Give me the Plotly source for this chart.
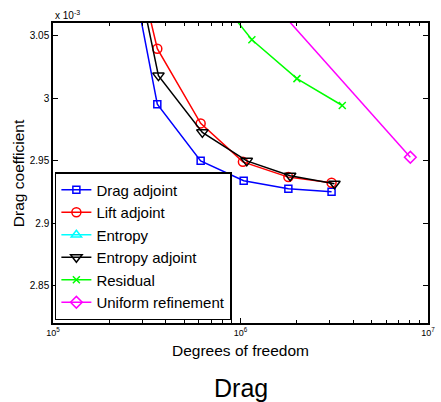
import plotly.graph_objects as go

# Degrees of freedom and drag coefficient (units of 1e-3)
drag_adj_dof = [2.1e5, 3.6e5, 6.13e5, 1.04e6, 1.80e6, 3.06e6]
drag_adj_cd = [3.177, 2.9951, 2.9497, 2.9338, 2.9274, 2.925]

lift_adj_dof = [2.1e5, 3.6e5, 6.13e5, 1.03e6, 1.80e6, 3.06e6]
lift_adj_cd = [3.188, 3.0394, 2.9797, 2.9489, 2.9367, 2.9322]

entropy_dof = [1.2e5, 2.0e5]
entropy_cd = [3.30, 3.20]

ent_adj_dof = [2.1e5, 3.65e5, 6.26e5, 1.08e6, 1.84e6, 3.17e6]
ent_adj_cd = [3.191, 3.0179, 2.9725, 2.9497, 2.9378, 2.9314]

resid_dof = [6.6e5, 1.15e6, 2.0e6, 3.49e6]
resid_cd = [3.092, 3.0466, 3.0155, 2.994]

uniform_dof = [1.0e6, 8.05e6]
uniform_cd = [3.105, 2.9526]

series = [
    ("Drag adjoint", drag_adj_dof, drag_adj_cd, "#0000ff", "square-open", 7),
    ("Lift adjoint", lift_adj_dof, lift_adj_cd, "#ff0000", "circle-open", 9),
    ("Entropy", entropy_dof, entropy_cd, "#00ffff", "triangle-up-open", 9),
    ("Entropy adjoint", ent_adj_dof, ent_adj_cd, "#000000", "triangle-down-open", 10),
    ("Residual", resid_dof, resid_cd, "#00ff00", "x-thin-open", 7),
    ("Uniform refinement", uniform_dof, uniform_cd, "#ff00ff", "diamond-open", 9),
]

y_ticks = [2.85, 2.9, 2.95, 3.0, 3.05]
y_ticktext = ["2.85", "2.9", "2.95", "3", "3.05"]
x_major = [1e5, 1e6, 1e7]
x_ticktext = ["10<sup>5</sup>", "10<sup>6</sup>", "10<sup>7</sup>"]
x_minor = [m * 10 ** e for e in (5, 6) for m in range(2, 10)]

FONT = "Liberation Sans, Arial, sans-serif"

fig = go.Figure()
for name, xs, ys, col, sym, size in series:
    fig.add_trace(go.Scatter(
        x=xs, y=ys, name=name, mode="lines+markers",
        line=dict(color=col, width=1.5),
        marker=dict(symbol=sym, size=size, color=col, line=dict(color=col, width=1.5)),
    ))

fig.update_layout(
    width=441, height=402,
    margin=dict(l=53, r=6, t=23, b=79),
    paper_bgcolor="white", plot_bgcolor="white",
    font=dict(family=FONT, color="black"),
    showlegend=True,
    legend=dict(
        x=0.005, y=0.01, xanchor="left", yanchor="bottom",
        bordercolor="black", borderwidth=1.5, bgcolor="white",
        font=dict(size=15, family=FONT), tracegroupgap=0,
        itemwidth=30,
    ),
    xaxis=dict(
        type="log", range=[5, 7],
        tickvals=x_major, ticktext=x_ticktext,
        ticks="inside", ticklen=5, tickcolor="black",
        showline=True, linecolor="black", linewidth=1.5, mirror="ticks",
        showgrid=False, zeroline=False,
        tickfont=dict(size=9, family=FONT),
        minor=dict(tickvals=x_minor, ticks="inside", ticklen=3, tickcolor="black", showgrid=False),
    ),
    yaxis=dict(
        range=[2.82, 3.06],
        tickvals=y_ticks, ticktext=y_ticktext,
        ticks="inside", ticklen=5, tickcolor="black",
        showline=True, linecolor="black", linewidth=1.5, mirror="ticks",
        showgrid=False, zeroline=False,
        tickfont=dict(size=10, family=FONT),
    ),
    annotations=[
        dict(text="Degrees of freedom", x=0.5, y=-0.09, xref="paper", yref="paper",
             xanchor="center", yanchor="middle", showarrow=False,
             font=dict(size=15.5, family=FONT)),
        dict(text="Drag coefficient", x=-0.093, y=0.5, xref="paper", yref="paper",
             xanchor="center", yanchor="middle", showarrow=False, textangle=-90,
             font=dict(size=15.5, family=FONT)),
        dict(text="x 10<sup>-3</sup>", x=0.0, y=1.0, xref="paper", yref="paper",
             xanchor="left", yanchor="bottom", showarrow=False,
             font=dict(size=10, family=FONT)),
        dict(text="Drag", x=0.5, y=-0.217, xref="paper", yref="paper",
             xanchor="center", yanchor="middle", showarrow=False,
             font=dict(size=25, family=FONT)),
    ],
)

fig.write_html("out.html", config={"displayModeBar": False},
               post_script="document.body.style.margin='0';")
